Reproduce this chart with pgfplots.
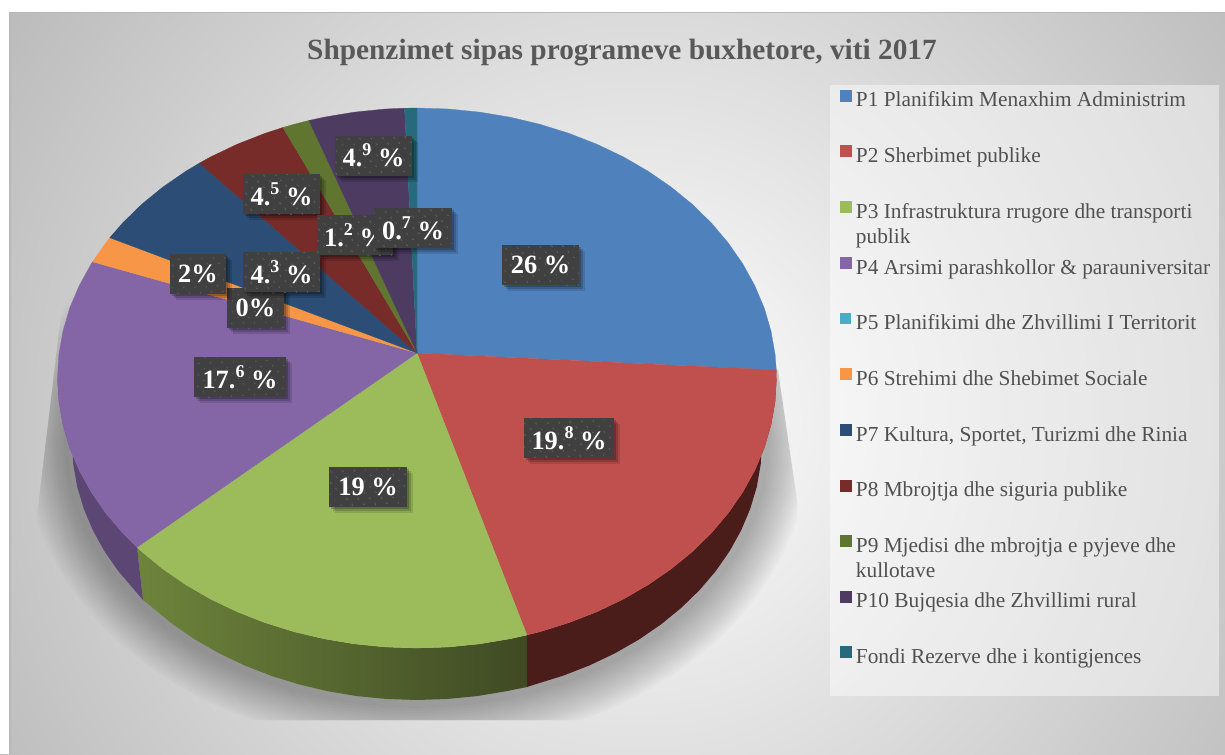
\documentclass[border=0pt]{standalone}
\usepackage{fontspec}
\setmainfont{Liberation Serif}
\usepackage{pgfplots}
\pgfplotsset{compat=1.18}
\usetikzlibrary{patterns.meta,shadows}
\definecolor{cP1}{HTML}{4F81BD}
\definecolor{cP2}{HTML}{C0504D}
\definecolor{cP3}{HTML}{9CBC5B}
\definecolor{cP4}{HTML}{8466A6}
\definecolor{cP5}{HTML}{4BACC6}
\definecolor{cP6}{HTML}{F79646}
\definecolor{cP7}{HTML}{2C4D75}
\definecolor{cP8}{HTML}{772C2A}
\definecolor{cP9}{HTML}{5F7530}
\definecolor{cP10}{HTML}{4D3B62}
\definecolor{cF}{HTML}{276A7C}
\definecolor{wallr}{HTML}{4A1C1A}
\definecolor{wallgl}{HTML}{6E843C}
\definecolor{wallgr}{HTML}{3F4A24}
\definecolor{wallp}{HTML}{5C4673}
\definecolor{labbg}{HTML}{404040}
\definecolor{labdot}{HTML}{5A5A5A}
\definecolor{txt}{HTML}{595959}
\definecolor{ltxt}{HTML}{505050}
\definecolor{bgouter}{HTML}{B7B7B7}
\newcommand\dg[1]{\raisebox{.42em}{\fontsize{13.5}{13.5}\selectfont #1}}
\pgfplotsset{
  px/.style={
    scale only axis, width=918.75pt, height=565.5pt,
    xmin=0, xmax=1225, ymin=0, ymax=754, y dir=reverse,
    axis lines=none, at={(0,0)}, anchor=south west},
}
\tikzset{
  lab/.style={fill=labbg, inner sep=0pt, minimum height=30pt, text=white, align=center,
    font=\fontsize{19.8}{20}\bfseries\selectfont,
    general shadow={shadow xshift=4.5pt, shadow yshift=-4.5pt, fill=black, opacity=.12},
    general shadow={shadow xshift=3pt, shadow yshift=-3pt, fill=black, opacity=.16},
    general shadow={shadow xshift=1.5pt, shadow yshift=-1.5pt, fill=black, opacity=.2},
    postaction={pattern={Dots[radius=.7pt,distance=6.4pt,angle=45]}, pattern color=labdot}},
}
\begin{document}
\begin{tikzpicture}
% background
\begin{axis}[px]
\addplot[draw=none, fill=white] coordinates {(0,0)(1225,0)(1225,754)(0,754)} --cycle;
\addplot[draw=none, inner color=white, outer color=bgouter] coordinates {(-160,-380)(1440,-380)(1440,1220)(-160,1220)} --cycle;
\addplot[draw=none, fill=white] coordinates {(0,0)(1225,0)(1225,12)(0,12)} --cycle;
\addplot[draw=none, fill=white] coordinates {(0,0)(9.5,0)(9.5,754)(0,754)} --cycle;
\addplot[draw=black!28, line width=.8pt] coordinates {(10,754)(10,12.5)(1225,12.5)};
\end{axis}
% soft shadow below the pie
\begin{scope}
\clip (48pt,348pt) -- (27pt,171.75pt) -- (27pt,25.5pt) -- (597.75pt,25.5pt) -- (597.75pt,190.5pt) -- (583.5pt,288pt) -- cycle;
\begin{axis}[px]
\pgfplotsinvokeforeach{12,16,20,24,28,32,36,40,44,48,52,56,60,64,68,72}{
\addplot[draw=black, draw opacity=.02, line width=#1pt, line join=round] coordinates {
(715.8,313)(741.2,353.8)(756.8,397.2)(762,442)(760.7,464.5)(756.8,486.8)(750.2,508.8)(741.2,530.2)(729.7,551)(715.8,571)(699.6,590)(681.3,607.8)(661,624.4)(638.8,639.6)(614.9,653.3)(589.5,665.4)(562.8,675.8)(535,684.4)(506.3,691.2)(476.9,696.1)(447.1,699)(417,700)(386.9,699)(357.1,696.1)(327.7,691.2)(299,684.4)(271.2,675.8)(244.5,665.4)(219.1,653.3)(195.2,639.6)(173,624.4)(152.7,607.8)(134.4,590)(118.2,571)(104.3,551)(92.8,530.2)(83.8,508.8)(77.2,486.8)(73.3,464.5)(72,442)(77.2,397.2)(92.8,353.8)(118.2,313)};
}
\end{axis}
\end{scope}
% main
\begin{axis}[px,
  legend cell align=left,
  legend style={at={(axis cs:840,89.3)}, anchor=north west, draw=none, fill=none,
    font=\fontsize{16}{18.8}\selectfont, text=ltxt, row sep=25.1pt,
    inner sep=0pt, outer sep=0pt},
  legend image code/.code={\fill[#1] (0pt,-.3pt) rectangle (8.25pt,7.95pt); \path (9.75pt,0pt);},
  ]
% legend panel
\addplot[forget plot, draw=none, fill=white, fill opacity=.45] coordinates {(829.5,84.5)(1219,84.5)(1219,696)(829.5,696)} --cycle;
% walls
\addplot[forget plot, draw=none, fill=wallr] coordinates {(776.5,378)(775.1,401.5)(771,424.9)(764.3,447.9)(754.8,470.3)(742.8,492.1)(728.3,513)(711.5,532.9)(692.4,551.6)(671.2,568.9)(648.1,584.8)(623.2,599.2)(596.8,611.8)(568.9,622.7)(540,631.7)(526.9,635)(527,687)(535,684.4)(562.8,675.8)(589.5,665.4)(614.9,653.3)(638.8,639.6)(661,624.4)(681.3,607.8)(699.6,590)(715.8,571)(729.7,551)(741.2,530.2)(750.2,508.8)(756.8,486.8)(760.7,464.5)(762,442)} --cycle;
\addplot[forget plot, draw=none, left color=wallgl, right color=wallgr] coordinates {(526.9,635)(510,638.8)(479.4,643.9)(448.3,647)(417,648)(385.7,647)(354.6,643.9)(324,638.8)(294,631.7)(265.1,622.7)(237.2,611.8)(210.8,599.2)(185.9,584.8)(162.8,568.9)(141.6,551.6)(137,547.3)(143,600)(152.7,607.8)(173,624.4)(195.2,639.6)(219.1,653.3)(244.5,665.4)(271.2,675.8)(299,684.4)(327.7,691.2)(357.1,696.1)(386.9,699)(417,700)(447.1,699)(476.9,696.1)(506.3,691.2)(527,687)} --cycle;
\addplot[forget plot, draw=none, fill=wallp] coordinates {(137,547.3)(122.5,532.9)(105.7,513)(91.2,492.1)(79.2,470.3)(69.7,447.9)(63,424.9)(58.9,401.5)(57.5,378)(72,442)(73.3,464.5)(77.2,486.8)(83.8,508.8)(92.8,530.2)(104.3,551)(118.2,571)(134.4,590)(143,600)} --cycle;
% top of the pie
\addplot[fill=cP1, draw=cP1, line width=.2pt] coordinates {(417,353)(417,108)(448.3,109)(479.4,112.1)(510,117.2)(540,124.3)(568.9,133.3)(596.8,144.2)(623.2,156.8)(648.1,171.2)(671.2,187.1)(692.4,204.4)(711.5,223.1)(728.3,243)(742.8,263.9)(754.8,285.7)(764.3,308.1)(771,331.1)(775.1,354.5)(776.3,370)} --cycle;
\addplot[fill=cP2, draw=cP2, line width=.2pt] coordinates {(417,353)(776.3,370)(776.5,378)(775.1,401.5)(771,424.9)(764.3,447.9)(754.8,470.3)(742.8,492.1)(728.3,513)(711.5,532.9)(692.4,551.6)(671.2,568.9)(648.1,584.8)(623.2,599.2)(596.8,611.8)(568.9,622.7)(540,631.7)(526.9,635)} --cycle;
\addplot[fill=cP3, draw=cP3, line width=.2pt] coordinates {(417,353)(526.9,635)(510,638.8)(479.4,643.9)(448.3,647)(417,648)(385.7,647)(354.6,643.9)(324,638.8)(294,631.7)(265.1,622.7)(237.2,611.8)(210.8,599.2)(185.9,584.8)(162.8,568.9)(141.6,551.6)(137,547.3)} --cycle;
\addplot[fill=cP4, draw=cP4, line width=.2pt] coordinates {(417,353)(137,547.3)(122.5,532.9)(105.7,513)(91.2,492.1)(79.2,470.3)(69.7,447.9)(63,424.9)(58.9,401.5)(57.5,378)(58.9,354.5)(63,331.1)(69.7,308.1)(79.2,285.7)(91.2,263.9)(92.5,261.8)} --cycle;
\addplot[fill=cP5, draw=none] coordinates {(417,353)(92.5,261.8)} --cycle;
\addplot[fill=cP6, draw=cP6, line width=.2pt] coordinates {(417,353)(92.5,261.8)(105.7,243)(109.8,237.7)} --cycle;
\addplot[fill=cP7, draw=cP7, line width=.2pt] coordinates {(417,353)(109.8,237.7)(122.5,223.1)(141.6,204.4)(162.8,187.1)(185.9,171.2)(199.6,163)} --cycle;
\addplot[fill=cP8, draw=cP8, line width=.2pt] coordinates {(417,353)(199.6,163)(210.8,156.8)(237.2,144.2)(265.1,133.3)(282.9,127.5)} --cycle;
\addplot[fill=cP9, draw=cP9, line width=.2pt] coordinates {(417,353)(282.9,127.5)(294,124.3)(308.9,120.5)} --cycle;
\addplot[fill=cP10, draw=cP10, line width=.2pt] coordinates {(417,353)(308.9,120.5)(324,117.2)(354.6,112.1)(385.7,109)(404.5,108.2)} --cycle;
\addplot[fill=cF, draw=cF, line width=.2pt] coordinates {(417,353)(404.5,108.2)(417,108)} --cycle;
\addlegendentry{P1 Planifikim Menaxhim Administrim}
\addlegendentry{P2 Sherbimet publike}
\addlegendentry{\parbox[t]{270pt}{P3 Infrastruktura rrugore dhe transporti\\publik}}
\addlegendentry{P4 Arsimi parashkollor \& parauniversitar}
\addlegendentry{P5 Planifikimi dhe Zhvillimi I Territorit}
\addlegendentry{P6 Strehimi dhe Shebimet Sociale}
\addlegendentry{P7 Kultura, Sportet, Turizmi dhe Rinia}
\addlegendentry{P8 Mbrojtja dhe siguria publike}
\addlegendentry{\parbox[t]{270pt}{P9 Mjedisi dhe mbrojtja e pyjeve dhe\\kullotave}}
\addlegendentry{P10 Bujqesia dhe Zhvillimi rural}
\addlegendentry{Fondi Rezerve dhe i kontigjences}
% title
\node[font=\fontsize{22}{24}\bfseries\selectfont, text=txt] at (axis cs:622,53) {Shpenzimet sipas programeve buxhetore, viti 2017};
% data labels
\node[lab, minimum width=77pt*.75] at (axis cs:540.5,265) {26 \%};
\node[lab, minimum width=90pt*.75] at (axis cs:569,438) {19.\dg{8} \%};
\node[lab, minimum width=78pt*.75] at (axis cs:368,487) {19 \%};
\node[lab, minimum width=92pt*.75] at (axis cs:240,377) {17.\dg{6} \%};
\node[lab, minimum width=57pt*.75] at (axis cs:255.5,308) {0\%};
\node[lab, minimum width=56pt*.75] at (axis cs:198,274) {2\%};
\node[lab, minimum width=77pt*.75] at (axis cs:281.5,272) {4.\dg{3} \%};
\node[lab, minimum width=77pt*.75] at (axis cs:281.5,194) {4.\dg{5} \%};
\node[lab, minimum width=76pt*.75] at (axis cs:355,235) {1.\dg{2} \%};
\node[lab, minimum width=77pt*.75] at (axis cs:373.5,155.5) {4.\dg{9} \%};
\node[lab, minimum width=78pt*.75] at (axis cs:413,228) {0.\dg{7} \%};
\end{axis}
\end{tikzpicture}
\end{document}
